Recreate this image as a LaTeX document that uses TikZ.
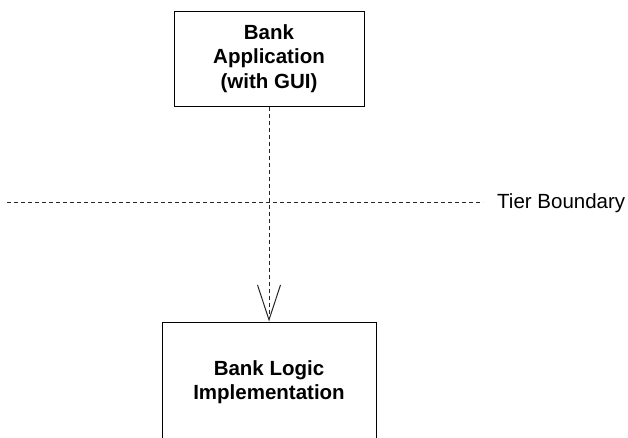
\documentclass[tikz,border=0pt]{standalone}
\usepackage{fontspec}
\setmainfont{Liberation Sans}
\usetikzlibrary{arrows.meta}
\begin{document}
\begin{tikzpicture}[x=1pt,y=-1pt,
  box/.style={draw=black, line width=1pt, fill=white, align=center, inner sep=0pt,
    font=\fontsize{20.5}{24.5}\selectfont\bfseries},
  dashline/.style={draw=black!85, line width=0.9pt, dash pattern=on 4pt off 3pt},
  lbl/.style={font=\fontsize{20.5}{24.5}\selectfont, inner sep=0pt}]
\useasboundingbox (0,0) rectangle (628,437);
\node[box, minimum width=190pt, minimum height=95pt] (app) at (269,58.5) {Bank\\Application\\(with GUI)};
\node[box, minimum width=214pt, minimum height=120pt] (logic) at (269,382) {Bank Logic\\Implementation};
\coordinate (tl) at (7,202);
\coordinate (tr) at (483,202);
\draw[dashline] (tl) -- (tr);
\node[lbl, anchor=base west] (tier) at (497,208) {Tier Boundary};
\draw[dashline, -{Straight Barb[length=35pt, width=23pt, line width=1pt]}] (app.south) -- (logic.north);
\end{tikzpicture}
\end{document}
